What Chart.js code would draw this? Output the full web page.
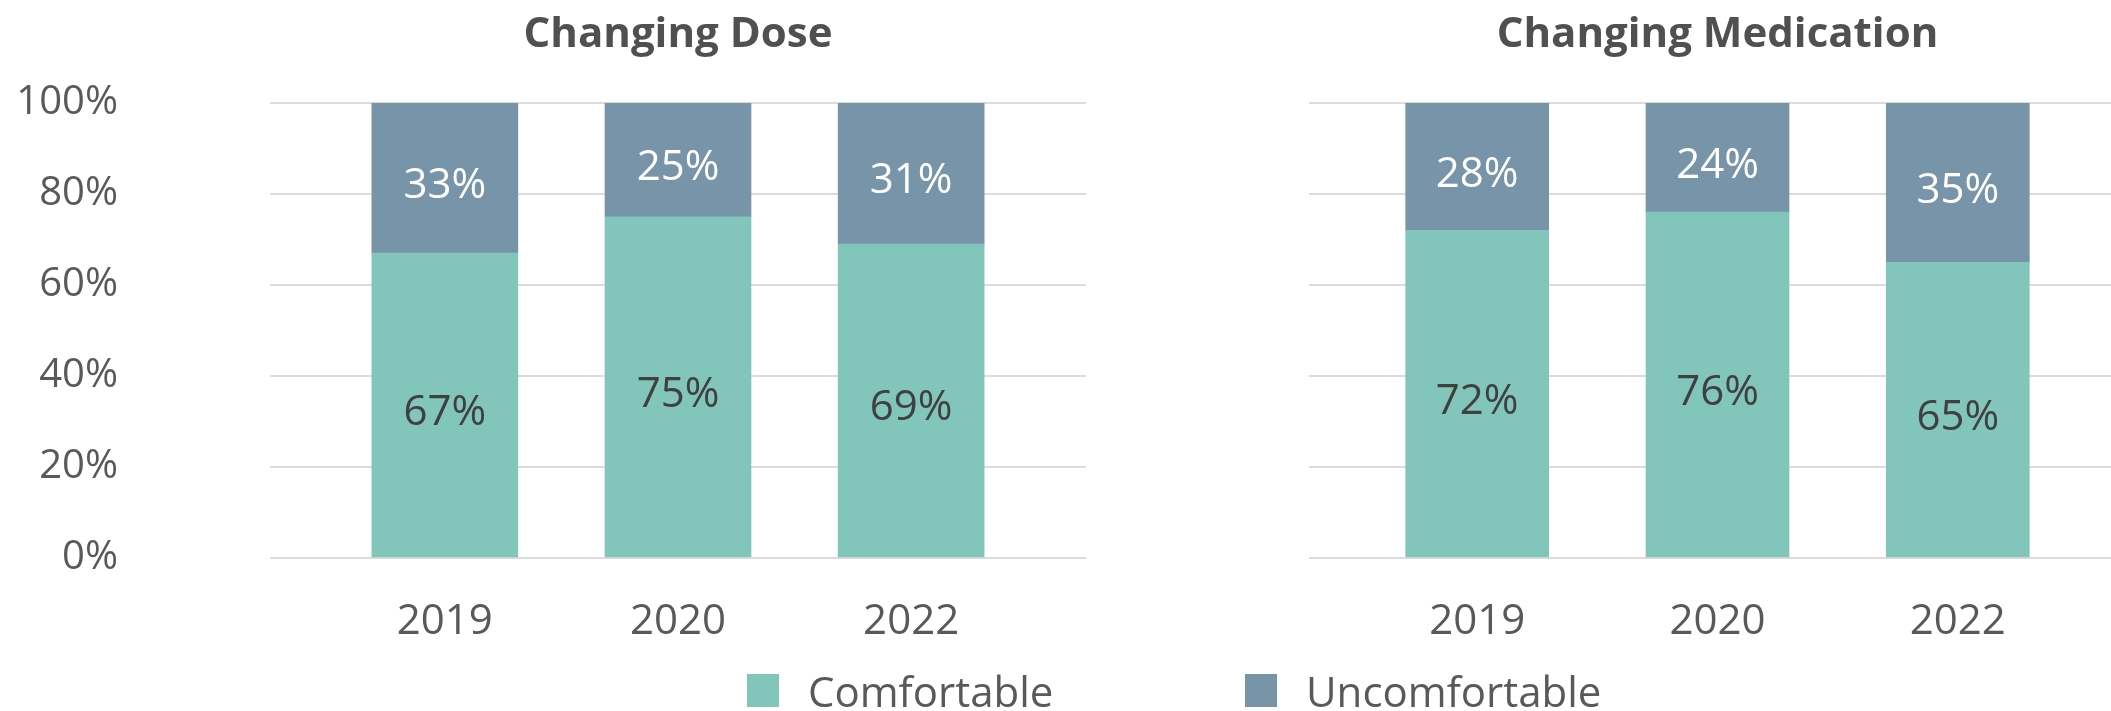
<!DOCTYPE html>
<html>
<head>
<meta charset="utf-8">
<script src="https://cdn.jsdelivr.net/npm/chart.js@4/dist/chart.umd.min.js"></script>
<style>
  html, body { margin: 0; padding: 0; width: 2111px; height: 711px; overflow: hidden; background: #fff; }
  canvas { position: absolute; top: 0; }
  #dose { left: 0; }
  #med { left: 1309px; }
  .key { position: absolute; top: 668px; height: 44px; display: flex; align-items: center;
         font-family: "Open Sans", sans-serif; font-size: 42px; color: #595959; white-space: nowrap; }
  .key span { display: inline-block; width: 32px; height: 33px; margin-right: 29px; }
</style>
</head>
<body>
<canvas id="dose" width="1086" height="711"></canvas>
<canvas id="med" width="817" height="711"></canvas>
<div id="legend"></div>
<script>
const categories = ['2019', '2020', '2022']
const doseComfortable = [67, 75, 69]
const doseUncomfortable = [33, 25, 31]
const medComfortable = [72, 76, 65]
const medUncomfortable = [28, 24, 35]

const seriesNames = ['Comfortable', 'Uncomfortable']
const seriesColors = ['#82c6bb', '#7794a8']
const labelColors = ['#404040', '#ffffff']
const FONT = '"Open Sans", sans-serif'

const points = values => values.map((v, i) => ({ x: i, y: v }))

// value labels in the middle of each bar segment
const barLabels = {
  id: 'barLabels',
  afterDatasetsDraw (chart) {
    const ctx = chart.ctx
    ctx.save()
    ctx.font = '42px ' + FONT
    ctx.textAlign = 'center'
    ctx.textBaseline = 'middle'
    chart.data.datasets.forEach((ds, di) => {
      ctx.fillStyle = labelColors[di]
      chart.getDatasetMeta(di).data.forEach((bar, i) => {
        ctx.fillText(ds.data[i].y + '%', bar.x, (bar.y + bar.base) / 2 + 8)
      })
    })
    ctx.restore()
  }
}

const makeChart = (id, title, comfortable, uncomfortable, o) => {
  const data = [comfortable, uncomfortable]
  return new Chart(document.getElementById(id), {
    type: 'bar',
    data: {
      datasets: data.map((vals, i) => ({
        label: seriesNames[i],
        data: points(vals),
        backgroundColor: seriesColors[i],
        borderWidth: 0,
        barThickness: o.barWidth
      }))
    },
    options: {
      responsive: false,
      animation: false,
      layout: { padding: 0 },
      plugins: {
        legend: { display: false },
        tooltip: { enabled: false },
        title: {
          display: true,
          text: title,
          fullSize: false, // centre over the plot, not the canvas
          color: '#505050',
          font: { family: FONT, size: 42, weight: 'bold' },
          padding: { top: 10, bottom: 42.6 }
        }
      },
      scales: {
        x: {
          type: 'linear',
          offset: false,
          stacked: true,
          min: o.xMin,
          max: o.xMax,
          afterBuildTicks: scale => { scale.ticks = categories.map((c, i) => ({ value: i })) },
          afterFit: scale => { scale.height = 153 },
          grid: { display: false },
          border: { display: false },
          ticks: {
            padding: 31,
            color: '#595959',
            font: { family: FONT, size: 42 },
            callback: v => categories[v]
          }
        },
        y: {
          stacked: true,
          min: 0,
          max: 100,
          afterFit: scale => {
            scale.width = o.axisWidth
            // the wide label gap should not push the plot down
            scale.paddingTop = 0
            scale.paddingBottom = 0
          },
          grid: { color: '#dcdcdc', lineWidth: 2, drawTicks: false },
          border: { display: false },
          ticks: {
            display: o.showTicks,
            stepSize: 20,
            padding: 152,
            color: '#595959',
            font: { family: FONT, size: 40 },
            callback: v => v + '%'
          }
        }
      }
    },
    plugins: [barLabels]
  })
}

makeChart('dose', 'Changing Dose', doseComfortable, doseUncomfortable,
  { xMin: -0.75, xMax: 2.75, axisWidth: 270, showTicks: true, barWidth: 146 })
makeChart('med', 'Changing Medication', medComfortable, medUncomfortable,
  { xMin: -0.7, xMax: 2.7, axisWidth: 0, showTicks: false, barWidth: 143 })

// shared legend under both panels
const legendLeft = [747, 1245]
const legend = document.getElementById('legend')
seriesNames.forEach((name, i) => {
  const item = document.createElement('div')
  item.className = 'key'
  item.style.left = legendLeft[i] + 'px'
  item.innerHTML = `<span style="background:${seriesColors[i]}"></span>${name}`
  legend.appendChild(item)
})
</script>
</body>
</html>
